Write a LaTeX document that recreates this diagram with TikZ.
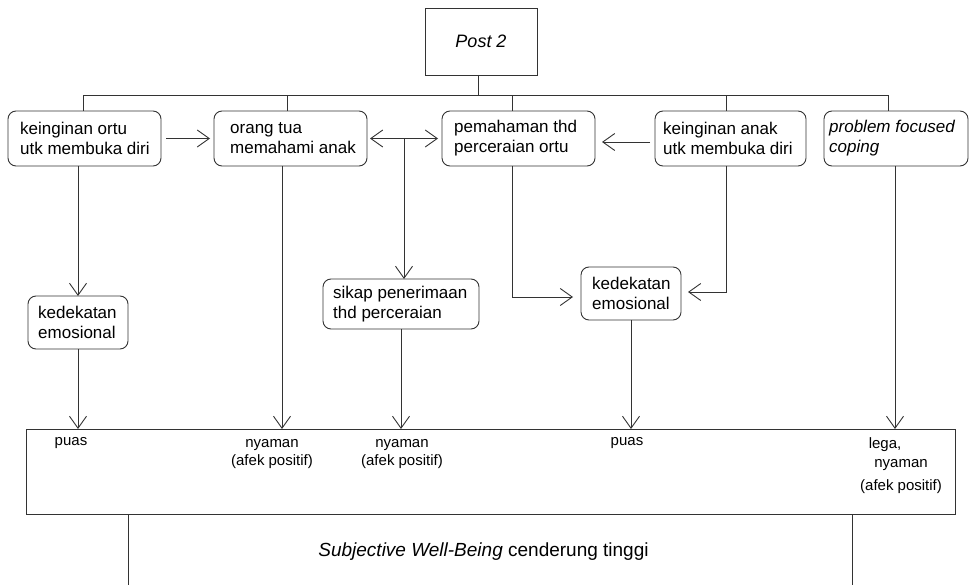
\documentclass[tikz,border=0pt]{standalone}
\usepackage{fontspec}
\setmainfont{Liberation Sans}
\usetikzlibrary{arrows.meta}
\begin{document}
\begin{tikzpicture}[x=1pt,y=-1pt,
  line/.style={draw=black!80, line width=0.9pt},
  arr/.style={line, -{Straight Barb[length=12pt,width=17pt]}},
  darr/.style={line, {Straight Barb[length=12pt,width=17pt]}-{Straight Barb[length=12pt,width=17pt]}},
  rbox/.style={draw=black!80, line width=0.9pt, rounded corners=8pt, outer sep=0pt, inner sep=0pt},
  sqbox/.style={draw=black!80, line width=0.9pt, outer sep=0pt, inner sep=0pt},
  txt/.style={font=\fontsize{17}{20}\selectfont, align=left, anchor=west, inner sep=0pt},
  small/.style={font=\fontsize{15}{18}\selectfont, align=center, inner sep=0pt}]
\useasboundingbox (0,0) rectangle (973,585);

% top box
\node[sqbox, minimum width=112, minimum height=67, font=\fontsize{18}{20}\selectfont] (post) at (481,41.5) {\textit{Post 2}};

% first row
\node[rbox, minimum width=153, minimum height=55] (b1) at (84.5,138.5) {};
\node[rbox, minimum width=153, minimum height=55] (b2) at (290.5,138.5) {};
\node[rbox, minimum width=153, minimum height=55] (b3) at (518.5,138.5) {};
\node[rbox, minimum width=151, minimum height=55] (b4) at (730.5,138.5) {};
\node[rbox, minimum width=144, minimum height=55] (b5) at (896,138.5) {};
\node[txt] (t1) at ([xshift=12]b1.west) {keinginan ortu\\utk membuka diri};
\node[txt] (t2) at ([xshift=16]b2.west) {orang tua\\memahami anak};
\node[txt] (t3) at ([xshift=12]b3.west) {pemahaman thd\\perceraian ortu};
\node[txt] (t4) at ([xshift=8]b4.west) {keinginan anak\\utk membuka diri};
\node[txt] (t5) at ([xshift=5]b5.west) {\textit{problem focused}\\\textit{coping}};

% second row
\node[rbox, minimum width=100, minimum height=53] (k1) at (78,322.5) {};
\node[txt] (tk1) at ([xshift=10]k1.west) {kedekatan\\emosional};
\node[rbox, minimum width=156, minimum height=50] (sikap) at (401,304) {};
\node[txt] (ts) at ([xshift=10]sikap.west) {sikap penerimaan\\thd perceraian};
\node[rbox, minimum width=100, minimum height=53] (k2) at (631,293.5) {};
\node[txt] (tk2) at ([xshift=11]k2.west) {kedekatan\\emosional};

% bottom box
\node[sqbox, minimum width=929, minimum height=85] (bb) at (490.5,471.5) {};
\node[small] (l1) at (71,443) {puas};
\node[small] (l2) at (272,454) {nyaman\\(afek positif)};
\node[small] (l3) at (402,454) {nyaman\\(afek positif)};
\node[small] (l4) at (627,443) {puas};
\node[small] (l5a) at (885,445) {lega,};
\node[small] (l5b) at (901,465) {nyaman};
\node[small] (l5c) at (901,487) {(afek positif)};

\node[font=\fontsize{19}{21}\selectfont, inner sep=0pt] (swb) at (483.5,552) {\textit{Subjective Well-Being} cenderung tinggi};

% tree bus
\coordinate (bus) at (478,95);
\draw[line] ([xshift=-3]post.south) -- (bus);
\draw[line] ([xshift=-1.5]b1.north) -- ++(0,-16) -| ([xshift=-8]b5.north);
\draw[line] ([xshift=-3.5]b2.north) -- ++(0,-16);
\draw[line] ([xshift=-6.5]b3.north) -- ++(0,-16);
\draw[line] ([xshift=-4.5]b4.north) -- ++(0,-16);

% horizontal arrows
\draw[arr, shorten <=5pt, shorten >=4pt] (b1.east) -- (b2.west);
\draw[darr, shorten <=3pt, shorten >=4pt] (b2.east) -- (b3.west);
\coordinate (j) at (404,138.5);
\draw[arr] (j) -- (j |- sikap.north);
\draw[arr, shorten <=5pt, shorten >=7pt] ([yshift=-3.5]b4.west) -- ([yshift=-3.5]b3.east);

% vertical arrows
\draw[arr] (k1.north |- b1.south) -- (k1.north);
\draw[arr] (k1.south) -- (k1.south |- bb.north);
\draw[arr] ([xshift=-8.5]b2.south) -- ([xshift=-8.5]b2.south |- bb.north);
\draw[arr] (sikap.south) -- (sikap.south |- bb.north);
\draw[arr, shorten >=8pt] ([xshift=-6.5]b3.south) |- ([yshift=-3.5]k2.west);
\draw[arr, shorten >=7pt] ([xshift=-4.5]b4.south) |- ([yshift=1.5]k2.east);
\draw[arr] (k2.south) -- (k2.south |- bb.north);
\draw[arr] ([xshift=-1]b5.south) -- ([xshift=-1]b5.south |- bb.north);

% lines under bottom box
\coordinate (bl) at (128,585);
\coordinate (br) at (852,585);
\draw[line] (bl |- bb.south) -- (bl);
\draw[line] (br |- bb.south) -- (br);
\end{tikzpicture}
\end{document}
